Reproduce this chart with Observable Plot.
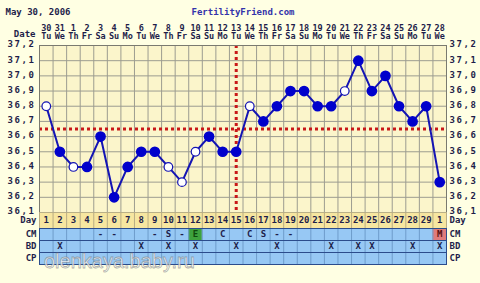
<!DOCTYPE html>
<html><head><meta charset="utf-8">
<script src="https://cdn.jsdelivr.net/npm/d3@7"></script>
<script src="https://cdn.jsdelivr.net/npm/@observablehq/plot@0.6"></script>
<style>
html,body{margin:0;padding:0;}
body{background:#FFFFE3;width:480px;height:283px;overflow:hidden;position:relative;}
.layer{position:absolute;left:0;}
.layer svg{overflow:visible;}
[aria-label="y-axis tick label"] text{letter-spacing:1.6px;}
#wm{position:absolute;left:44px;top:252px;line-height:18px;height:18px;font-family:"Liberation Sans",Arial,sans-serif;font-size:20px;color:rgba(255,255,255,0.75);-webkit-text-stroke:0.8px rgba(110,110,110,0.55);white-space:nowrap;}
</style></head><body>
<div id="main" class="layer" style="top:0"></div>
<div id="dayrow" class="layer" style="top:212px"></div>
<div id="obs" class="layer" style="top:228px"></div>
<div id="wm">olenkaya.baby.ru</div>
<script>
const headerDate = "May 30, 2006";
const siteName = "FertilityFriend.com";
const days = [1,2,3,4,5,6,7,8,9,10,11,12,13,14,15,16,17,18,19,20,21,22,23,24,25,26,27,28,29,30];
const dates = ["30","31","1","2","3","4","5","6","7","8","9","10","11","12","13","14","15","16","17","18","19","20","21","22","23","24","25","26","27","28"];
const weekdays = ["Tu","We","Th","Fr","Sa","Su","Mo","Tu","We","Th","Fr","Sa","Su","Mo","Tu","We","Th","Fr","Sa","Su","Mo","Tu","We","Th","Fr","Sa","Su","Mo","Tu","We"];
const dayLabels = ["1","2","3","4","5","6","7","8","9","10","11","12","13","14","15","16","17","18","19","20","21","22","23","24","25","26","27","28","29","1"];
const temps = [36.8,36.5,36.4,36.4,36.6,36.2,36.4,36.5,36.5,36.4,36.3,36.5,36.6,36.5,36.5,36.8,36.7,36.8,36.9,36.9,36.8,36.8,36.9,37.1,36.9,37.0,36.8,36.7,36.8,36.3];
const openDays = [1,3,10,11,12,16,23];
const yTicks = [36.1,36.2,36.3,36.4,36.5,36.6,36.7,36.8,36.9,37.0,37.1,37.2];
const coverline = 36.65;
const ovulationDay = 15;
const rowNames = ["CM","BD","CP"];
const cmDays = [5,6,9,10,11,12,14,16,17,18,19,30];
const cmCodes = ["-","-","-","S","-","E","C","C","S","-","-","M"];
const bdDays = [2,8,10,12,15,18,22,24,25,28,30];
const cellColors = {E:"#3DA23D", M:"#E07B7B"};

const FONT = "'DejaVu Sans Mono', monospace";
const INK = "#1E1E4A";
const fmt = v => d3.format(".1f")(v).replace(".", ",");
const xDomain = [days[0]-0.5, days[days.length-1]+0.5];
const bounds = d3.range(xDomain[0], xDomain[1]+0.01, 1);
const pts = days.map((d,i)=>({day:d, temp:temps[i], open:openDays.includes(d)}));
const baseStyle = {background:"transparent", fontFamily:FONT, fontSize:"9px", fontWeight:"bold", color:INK, overflow:"visible"};
const M = {width:480, marginLeft:39, marginRight:34};

const main = Plot.plot({
  ...M, height:220, marginTop:45, marginBottom:8,
  style:baseStyle,
  x:{domain:xDomain, axis:null},
  y:{domain:[yTicks[0], yTicks[yTicks.length-1]], axis:null},
  marks:[
    Plot.frame({fill:"#FBF5CB"}),
    Plot.ruleX(bounds,{stroke:"#9C9C90", strokeWidth:1}),
    Plot.ruleY(yTicks,{stroke:"#9C9C90", strokeWidth:1}),
    Plot.ruleY([coverline],{stroke:"#C81818", strokeWidth:3, strokeDasharray:"3,3"}),
    Plot.ruleX([ovulationDay],{stroke:"#C81818", strokeWidth:3, strokeDasharray:"3,3"}),
    Plot.frame({stroke:"#7A7A70"}),
    Plot.line(pts,{x:"day", y:"temp", stroke:"#1414B4", strokeWidth:2}),
    Plot.dot(pts.filter(d=>!d.open),{x:"day", y:"temp", r:4.6, fill:"#0000CC", stroke:"#0000CC"}),
    Plot.dot(pts.filter(d=>d.open),{x:"day", y:"temp", r:4.3, fill:"white", stroke:"#1414B4", strokeWidth:1.2}),
    Plot.axisY(yTicks,{anchor:"left", tickFormat:fmt, tickSize:0, tickPadding:4, label:null, fill:INK, dy:-1}),
    Plot.axisY(yTicks,{anchor:"right", tickFormat:fmt, tickSize:0, tickPadding:3, label:null, fill:INK, dy:-1}),
    Plot.text(days,{x:d=>d, text:d=>dates[d-1], frameAnchor:"top", dy:-21, fill:INK, fontSize:8.5}),
    Plot.text(days,{x:d=>d, text:d=>weekdays[d-1], frameAnchor:"top", dy:-12.4, fill:INK, fontSize:8.5}),
    Plot.text(["Date"],{frameAnchor:"top-left", dx:-4, dy:-15, textAnchor:"end", fill:INK}),
    Plot.text([headerDate],{frameAnchor:"top-left", dx:-34, dy:-37, textAnchor:"start", fill:INK}),
    Plot.text([siteName],{frameAnchor:"top", dy:-37, fill:"#3333AA"})
  ]
});
document.getElementById("main").append(main);

const dayRow = Plot.plot({
  ...M, height:16, marginTop:0, marginBottom:0,
  style:baseStyle,
  x:{domain:xDomain, axis:null},
  marks:[
    Plot.frame({fill:"#F7E6A0"}),
    Plot.ruleX(bounds,{stroke:"#B8AC84"}),
    Plot.text(days,{x:d=>d, text:d=>dayLabels[d-1], fill:INK}),
    Plot.text(["Day"],{frameAnchor:"left", dx:-3, textAnchor:"end", fill:INK}),
    Plot.text(["Day"],{frameAnchor:"right", dx:3, textAnchor:"start", fill:INK})
  ]
});
document.getElementById("dayrow").append(dayRow);

const obsData = [
  ...cmDays.map((d,i)=>({row:"CM", day:d, code:cmCodes[i]})),
  ...bdDays.map(d=>({row:"BD", day:d, code:"X"}))
];
const obs = Plot.plot({
  ...M, height:36, marginTop:0, marginBottom:0,
  style:baseStyle,
  x:{domain:xDomain, axis:null},
  fy:{domain:rowNames, padding:0, axis:null},
  marks:[
    Plot.frame({fill:"#97C8F4"}),
    Plot.rect(obsData.filter(d=>cellColors[d.code]),{x1:d=>d.day-0.5, x2:d=>d.day+0.5, fy:"row", fill:d=>cellColors[d.code]}),
    Plot.ruleX(bounds,{stroke:"#6E9CCB"}),
    Plot.frame({stroke:"#2B4C8C"}),
    Plot.text(obsData,{x:"day", fy:"row", text:"code", fill:d=>d.code==="E"?"#0E4A0E":(d.code==="M"?"#5A1010":INK)}),
    Plot.text(rowNames,{fy:d=>d, text:d=>d, frameAnchor:"left", dx:-3, textAnchor:"end", fill:INK}),
    Plot.text(rowNames,{fy:d=>d, text:d=>d, frameAnchor:"right", dx:3, textAnchor:"start", fill:INK})
  ]
});
document.getElementById("obs").append(obs);
</script>
</body></html>
